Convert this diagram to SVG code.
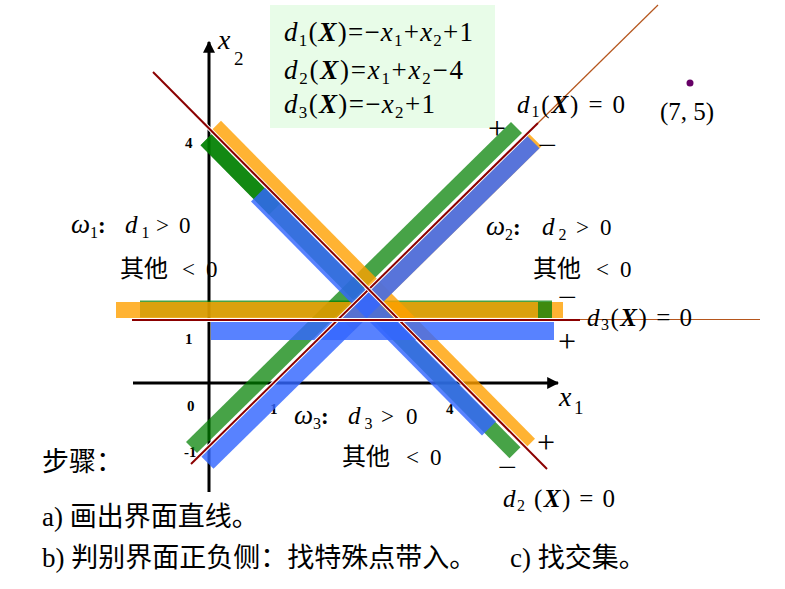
<svg xmlns="http://www.w3.org/2000/svg" width="785" height="589" viewBox="0 0 785 589">
<defs>
<style>
text{font-family:"Liberation Serif","Noto Sans CJK SC",serif;fill:#000}
.it{font-style:italic}
.bi{font-style:italic;font-weight:bold}
.tick{font-size:15px;font-weight:bold}
.sg{font-size:32px}
.mn{font-size:26px}
.g{fill:#008000;opacity:0.72}
.o{fill:#FFA000;opacity:0.8}
.b{fill:#3366FF;opacity:0.82}
.ln{stroke:#8B0000;stroke-width:2;fill:none}
.halo{stroke:#fff;stroke-width:4;fill:none}
.ext{stroke:#B5561D;stroke-width:1.2;fill:none}
.ax{stroke:#000;stroke-width:3;fill:none}
</style>
<marker id="arr" viewBox="0 0 10 10" refX="9" refY="5" markerWidth="4" markerHeight="4" orient="auto" markerUnits="strokeWidth">
<path d="M0,0 L10,5 L0,10 z" fill="#000"/>
</marker>
</defs>
<rect width="785" height="589" fill="#fff"/>

<g id="eqbox">
<rect x="270" y="5" width="225" height="123" fill="#E8FCE8"/>
<text x="284" y="41" font-size="27" textLength="189"><tspan class="it">d</tspan><tspan font-size="17" dy="5">1</tspan><tspan dy="-5">(</tspan><tspan class="bi">X</tspan>)=−<tspan class="it">x</tspan><tspan font-size="17" dy="5">1</tspan><tspan dy="-5">+</tspan><tspan class="it">x</tspan><tspan font-size="17" dy="5">2</tspan><tspan dy="-5">+1</tspan></text>
<text x="284" y="79" font-size="27" textLength="179"><tspan class="it">d</tspan><tspan font-size="17" dy="5">2</tspan><tspan dy="-5">(</tspan><tspan class="bi">X</tspan>)=<tspan class="it">x</tspan><tspan font-size="17" dy="5">1</tspan><tspan dy="-5">+</tspan><tspan class="it">x</tspan><tspan font-size="17" dy="5">2</tspan><tspan dy="-5">−4</tspan></text>
<text x="284" y="113" font-size="27" textLength="151"><tspan class="it">d</tspan><tspan font-size="17" dy="5">3</tspan><tspan dy="-5">(</tspan><tspan class="bi">X</tspan>)=−<tspan class="it">x</tspan><tspan font-size="17" dy="5">2</tspan><tspan dy="-5">+1</tspan></text>
</g>

<g id="axes">
<line class="ax" x1="209" y1="492" x2="209" y2="42" marker-end="url(#arr)"/>
<line class="ax" x1="133" y1="383" x2="558" y2="383" marker-end="url(#arr)"/>
<text x="218" y="49" font-size="28" class="it">x</text>
<text x="234" y="65" font-size="19">2</text>
<text x="559" y="406" font-size="28" class="it">x</text>
<text x="574" y="414" font-size="19">1</text>
<text class="tick" x="185" y="148">4</text>
<text class="tick" x="185" y="344">1</text>
<text class="tick" x="187" y="411">0</text>
<text class="tick" x="184" y="457">-1</text>
<text class="tick" x="270" y="414">1</text>
<text class="tick" x="446" y="414">4</text>
</g>

<g id="green-bands">
<polygon class="g" points="197,453 522,133 511,122 186,442"/>
<polygon class="g" points="211.5,134.3 520.5,447.3 509.5,458.3 200.5,145.3"/>
<polygon class="g" points="211.5,134.3 280,203.7 269,214.7 200.5,145.3"/>
<rect class="g" x="140" y="300.5" width="412" height="17"/>
</g>

<g id="orange-bands">
<polygon class="o" points="211,130.8 221,120.8 535,438.8 525,448.8"/>
<polygon class="o" points="340,317.5 528,132.7 541.5,146.2 353.5,331"/>
<rect class="o" x="116" y="302" width="422" height="16"/>
<rect x="538" y="302" width="14" height="16" fill="#3F8A0F"/>
<rect class="o" x="552" y="302" width="11" height="16"/>
</g>

<g id="blue-bands">
<polygon class="b" points="265,187.5 496,421.5 482,435.5 251,201.5"/>
<polygon class="b" points="201,456.2 527,135.7 539.5,148.2 213.5,468.7"/>
<rect class="b" x="211" y="322" width="343" height="18"/>
</g>

<g id="connectors">
<line class="halo" x1="191" y1="464" x2="538" y2="123"/>
<line class="ln" x1="191" y1="464" x2="538" y2="123"/>
<line class="ext" x1="538" y1="123" x2="658" y2="5"/>
<line class="halo" x1="153" y1="72" x2="547" y2="469"/>
<line class="ln" x1="153" y1="72" x2="547" y2="469"/>
<line class="halo" x1="132" y1="320" x2="580" y2="320"/>
<line class="ln" x1="132" y1="320" x2="580" y2="320"/>
<line class="ext" x1="580" y1="319.5" x2="760" y2="319.5"/>
</g>

<g id="line-labels">
<text x="517" y="113" font-size="25" textLength="108"><tspan class="it">d</tspan><tspan font-size="16" dy="4">1</tspan><tspan dy="-4">(</tspan><tspan class="bi">X</tspan>) = 0</text>
<text x="587" y="326" font-size="25" textLength="105"><tspan class="it">d</tspan><tspan font-size="16" dy="4">3</tspan><tspan dy="-4">(</tspan><tspan class="bi">X</tspan>) = 0</text>
<text x="503" y="507" font-size="25" textLength="112"><tspan class="it">d</tspan><tspan font-size="16" dy="4">2</tspan><tspan dy="-4"> (</tspan><tspan class="bi">X</tspan>) = 0</text>
<text class="sg" x="488" y="139">+</text>
<text class="mn" transform="translate(538,154) scale(1.3,1)">−</text>
<text class="mn" transform="translate(558,306) scale(1.3,1)">−</text>
<text class="sg" x="558" y="352">+</text>
<text class="sg" x="537" y="453">+</text>
<text class="mn" transform="translate(498,476) scale(1.3,1)">−</text>
</g>

<g id="point">
<circle cx="690" cy="83" r="3.5" fill="#660066"/>
<text x="660" y="120" font-size="25">(7, 5)</text>
</g>

<g id="region-labels" font-size="23">
<text x="71" y="233"><tspan class="it" font-size="27">ω</tspan><tspan font-size="16" dy="5">1</tspan><tspan dy="-5" font-weight="bold">:</tspan></text>
<text x="125" y="233"><tspan class="it" font-size="25">d</tspan><tspan font-size="16" dy="5"> 1</tspan><tspan dy="-5" x="156">&gt;</tspan><tspan x="179">0</tspan></text>
<text x="120" y="277" font-size="24">其他<tspan x="182" font-size="23">&lt;</tspan><tspan x="206" font-size="23">0</tspan></text>

<text x="486" y="235"><tspan class="it" font-size="27">ω</tspan><tspan font-size="16" dy="5">2</tspan><tspan dy="-5" font-weight="bold">:</tspan></text>
<text x="542" y="235"><tspan class="it" font-size="25">d</tspan><tspan font-size="16" dy="5"> 2</tspan><tspan dy="-5" x="576">&gt;</tspan><tspan x="600">0</tspan></text>
<text x="533" y="277" font-size="24">其他<tspan x="596" font-size="23">&lt;</tspan><tspan x="620" font-size="23">0</tspan></text>

<text x="294" y="424"><tspan class="it" font-size="27">ω</tspan><tspan font-size="16" dy="5">3</tspan><tspan dy="-5" font-weight="bold">:</tspan></text>
<text x="348" y="424"><tspan class="it" font-size="25">d</tspan><tspan font-size="16" dy="5"> 3</tspan><tspan dy="-5" x="381">&gt;</tspan><tspan x="406">0</tspan></text>
<text x="342" y="465" font-size="24">其他<tspan x="406" font-size="23">&lt;</tspan><tspan x="430" font-size="23">0</tspan></text>
</g>

<g id="steps" font-size="27">
<text x="42" y="471">步骤：</text>
<text x="42" y="526">a) 画出界面直线。</text>
<text x="42" y="567">b) 判别界面正负侧：找特殊点带入。</text>
<text x="510" y="567">c) 找交集。</text>
</g>
</svg>
